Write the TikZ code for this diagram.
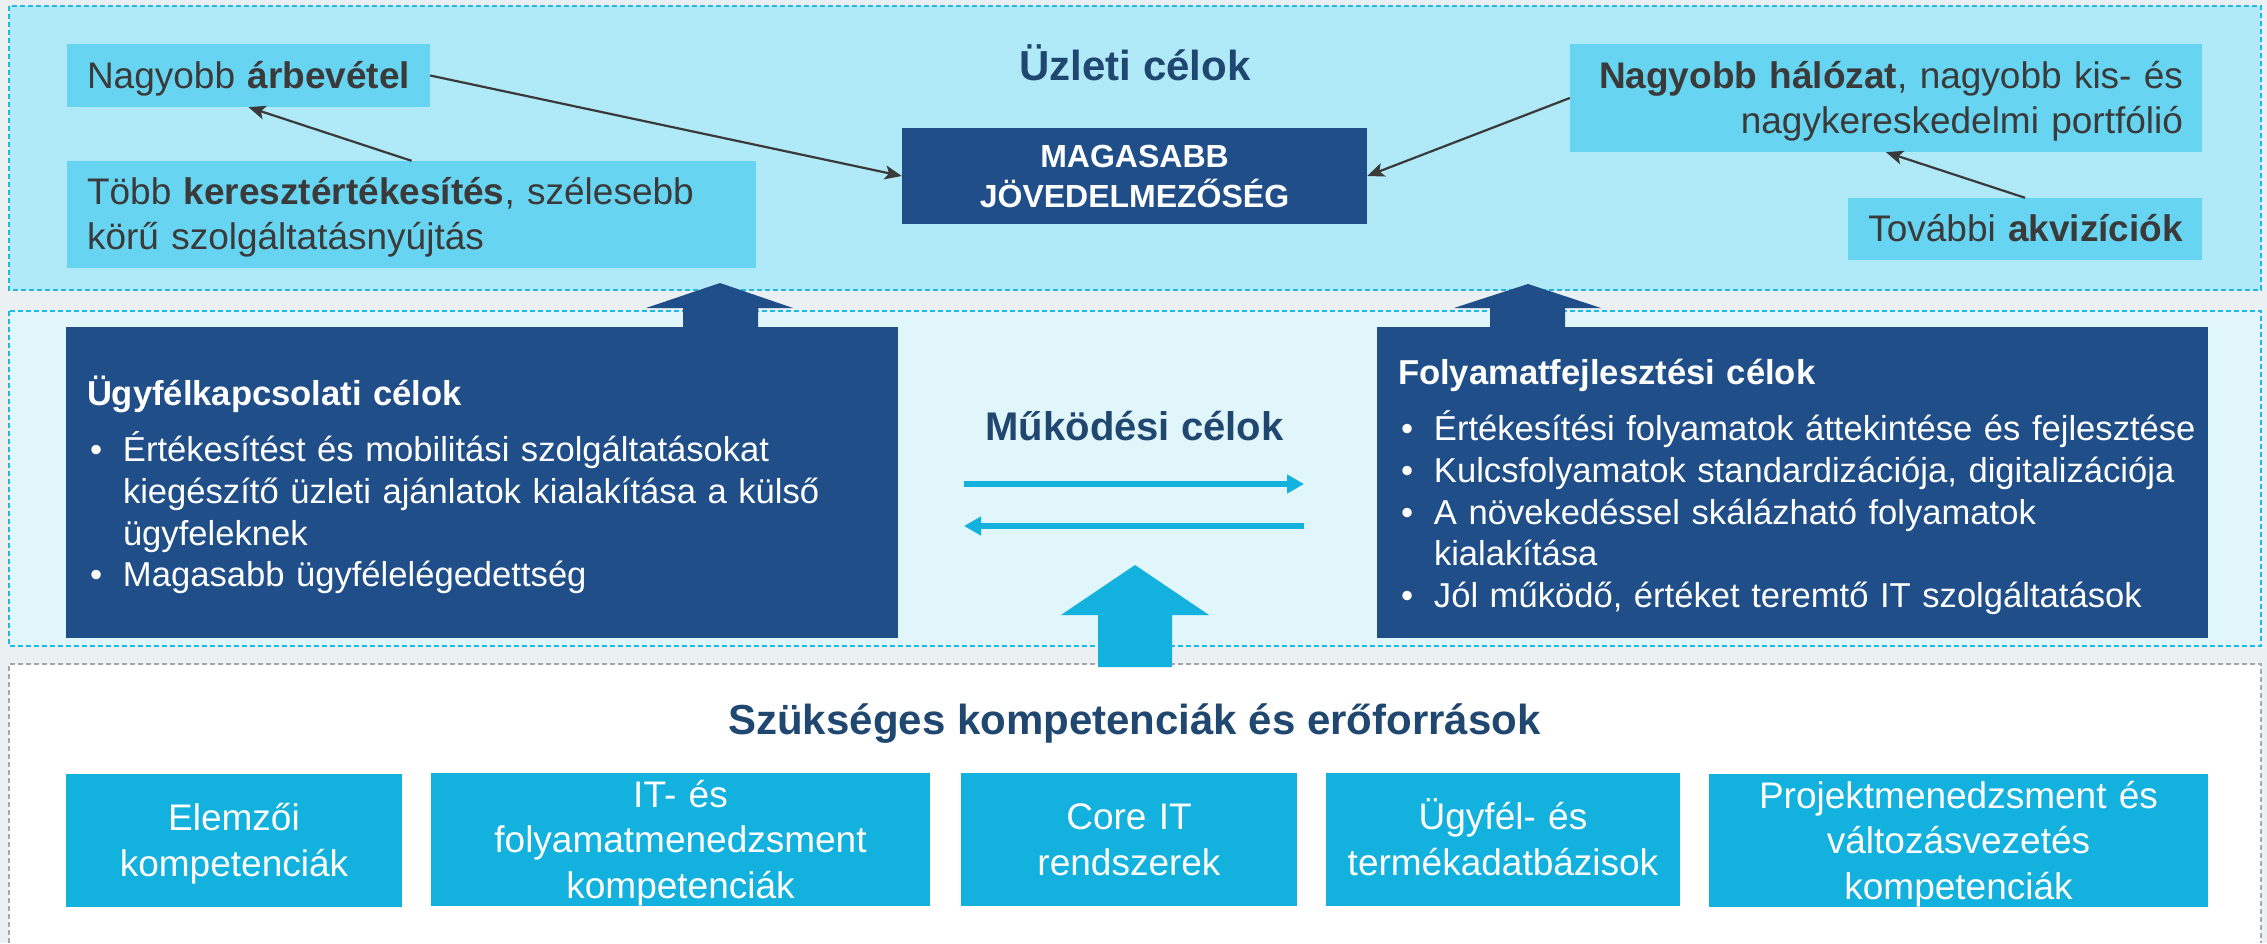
\documentclass[tikz,border=0pt]{standalone}
\usepackage{fontspec}
\setmainfont{Liberation Sans}
\usetikzlibrary{arrows.meta}
\definecolor{bgc}{HTML}{EBF0F3}
\definecolor{toppanel}{HTML}{B0E9F7}
\definecolor{midpanel}{HTML}{E0F6FB}
\definecolor{lightbox}{HTML}{67D4F1}
\definecolor{darkblue}{HTML}{1F4E89}
\definecolor{cyanc}{HTML}{13B1DE}
\definecolor{dashcyan}{HTML}{1DB9E6}
\definecolor{dashgray}{HTML}{A6A6AE}
\definecolor{headc}{HTML}{1F4770}
\definecolor{txtgray}{HTML}{3A3A3A}
\newcommand\bul[1]{\mbox{\makebox[36pt][l]{\hspace{3pt}\textbullet}#1}}
\newcommand\cont[1]{\mbox{\hspace{36pt}#1}}
% struts fixing line heights/depths like the original slide
\newcommand\sL{\rule[-8pt]{0pt}{41pt}}
\newcommand\sK{\rule[-7.7pt]{0pt}{41.7pt}}
\newcommand\sD{\rule[-6.5pt]{0pt}{40.5pt}}
\newcommand\sC{\rule[-6pt]{0pt}{35pt}}
\tikzset{
  panelborder/.style={line width=1.5pt, dash pattern=on 5pt off 3pt},
  lbox/.style={fill=lightbox, text=txtgray, inner xsep=20pt, inner ysep=0pt, font=\fontsize{37}{45}\selectfont},
  dbox/.style={fill=darkblue, text=white, inner xsep=21pt, inner ysep=0pt, align=left, minimum height=311pt, font=\fontsize{34.6}{41.7}\selectfont},
  cbox/.style={fill=cyanc, text=white, align=center, inner sep=0pt, minimum height=133pt, font=\fontsize{37}{45.5}\selectfont},
  head/.style={text=headc, inner sep=0pt, anchor=base, font=\bfseries\fontsize{42}{50}\selectfont},
  thinarrow/.style={draw=txtgray, line width=2.2pt, -{Stealth[length=17pt, width=14pt, inset=4pt]}},
  cyanarrow/.style={draw=cyanc, line width=6pt, -{Triangle[length=17pt, width=18pt]}}
}
\begin{document}
\begin{tikzpicture}[x=1pt, y=-1pt]
\useasboundingbox (0,0) rectangle (2267,943);
% background and panels
\fill[bgc] (0,0) rectangle (2267,943);
\draw[panelborder, draw=dashcyan, fill=toppanel] (9,6) rectangle (2261,290);
\draw[panelborder, draw=dashcyan, fill=midpanel] (9,311) rectangle (2261,646);
\fill[white] (9,664) rectangle (2261,943);
\draw[panelborder, draw=dashgray] (9,943) -- (9,664) -- (2261,664) -- (2261,943);

% top panel
\node[head] (t1) at (1135,80) {Üzleti célok};
\node[lbox, text width=323pt, minimum height=63pt, align=left] (A) at (248.5,75.5) {\sL Nagyobb \textbf{árbevétel}\sL};
\node[lbox, text width=649pt, minimum height=107pt, align=left] (B) at (411.5,214.5) {\sL Több \textbf{keresztértékesítés}, szélesebb\\körű szolgáltatásnyújtás\sL};
\node[fill=darkblue, text=white, align=center, font=\bfseries\fontsize{32}{40}\selectfont, text width=465pt, inner sep=0pt, minimum height=96pt] (C) at (1134.5,176) {\sC MAGASABB\\JÖVEDELMEZŐSÉG\sC};
\node[lbox, text width=594pt, inner xsep=19pt, minimum height=108pt, align=right] (D) at (1886,98) {\sL\textbf{Nagyobb hálózat}, nagyobb kis- és\\nagykereskedelmi portfólió\sL};
\node[lbox, text width=316pt, inner xsep=19pt, minimum height=62pt, align=right] (E) at (2025,229) {\sL További \textbf{akvizíciók}\sL};

\draw[thinarrow] (A.east) -- (C.west);
\draw[thinarrow] (B.north) -- (A.south);
\draw[thinarrow] (D.west) -- (C.east);
\draw[thinarrow] (E.north) -- (D.south);

% middle panel
\node[dbox, text width=790pt] (L) at (482,482.5) {\sD\textbf{Ügyfélkapcsolati célok}\\[15pt]
\bul{Értékesítést és mobilitási szolgáltatásokat}\\
\cont{kiegészítő üzleti ajánlatok kialakítása a külső}\\
\cont{ügyfeleknek}\\
\bul{Magasabb ügyfélelégedettség}\sD};
\node[dbox, text width=789pt] (R) at (1792.5,482.5) {\sD\textbf{Folyamatfejlesztési célok}\\[15pt]
\bul{Értékesítési folyamatok áttekintése és fejlesztése}\\
\bul{Kulcsfolyamatok standardizációja, digitalizációja}\\
\bul{A növekedéssel skálázható folyamatok}\\
\cont{kialakítása}\\
\bul{Jól működő, értéket teremtő IT szolgáltatások}\sD};
\node[head, font=\bfseries\fontsize{40}{48}\selectfont] (t2) at (1134.5,440) {Működési célok};
\coordinate (r1) at (964,484);
\coordinate (r2) at (1304,484);
\coordinate (l1) at (1304,526);
\coordinate (l2) at (964,526);
\draw[cyanarrow] (r1) -- (r2);
\draw[cyanarrow] (l1) -- (l2);

% block arrows
\fill[darkblue] (683,330) -- (683,308) -- (646,308) -- (720,283) -- (793,308) -- (758,308) -- (758,330) -- cycle;
\fill[darkblue] (1490,330) -- (1490,308) -- (1454,308) -- (1528,284) -- (1601,308) -- (1565,308) -- (1565,330) -- cycle;
\fill[cyanc] (1098,667) -- (1098,615) -- (1061,615) -- (1135,565) -- (1209,615) -- (1172,615) -- (1172,667) -- cycle;

% bottom panel
\node[head] (t3) at (1134.5,734) {Szükséges kompetenciák és erőforrások};
\node[cbox, text width=336pt] (k1) at (234,840.5) {\sK Elemzői\\kompetenciák\sK};
\node[cbox, text width=499pt] (k2) at (680.5,839.5) {\sK IT- és\\folyamatmenedzsment\\kompetenciák\sK};
\node[cbox, text width=336pt] (k3) at (1129,839.5) {\sK Core IT\\rendszerek\sK};
\node[cbox, text width=354pt] (k4) at (1503,839.5) {\sK Ügyfél- és\\termékadatbázisok\sK};
\node[cbox, text width=499pt] (k5) at (1958.5,840.5) {\sK Projektmenedzsment és\\változásvezetés\\kompetenciák\sK};
\end{tikzpicture}
\end{document}
